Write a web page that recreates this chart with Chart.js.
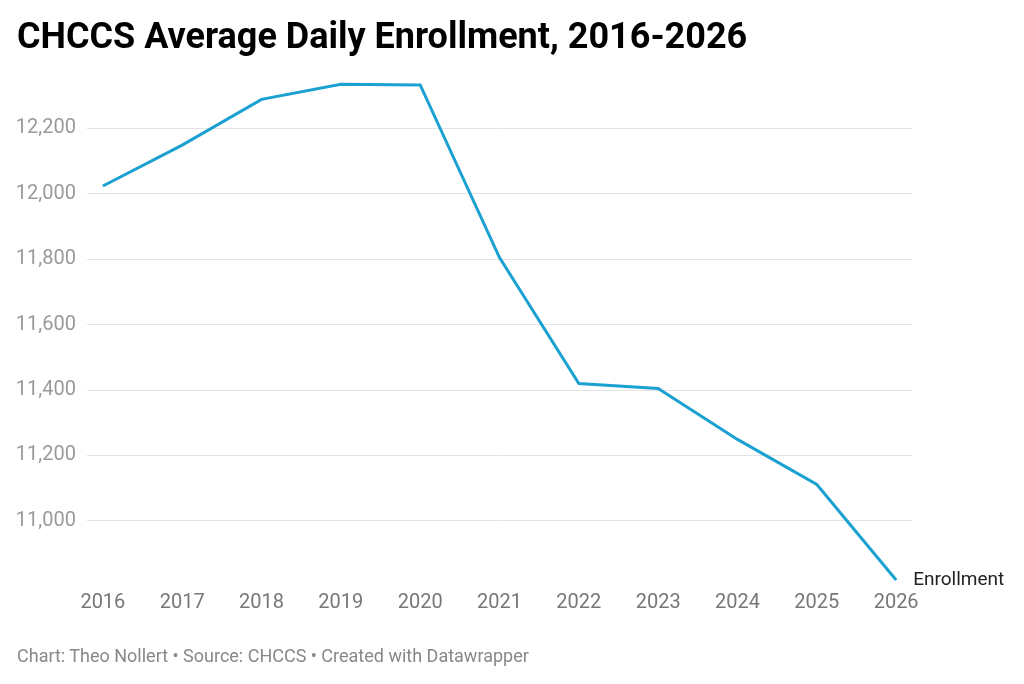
<!DOCTYPE html>
<html lang="en">
<head>
    <meta charset="UTF-8">
    <meta name="viewport" content="width=device-width, initial-scale=1.0">
    <title>CHCCS Average Daily Enrollment</title>
    <script src="https://cdn.jsdelivr.net/npm/chart.js"></script>
    <style>
        html, body {
            margin: 0;
            padding: 0;
            background: #fff;
            font-family: Roboto, "Noto Sans", sans-serif;
        }
        .page {
            position: relative;
            width: 1024px;
            height: 684px;
            overflow: hidden;
        }
        .title {
            position: absolute;
            left: 17px;
            top: 15px;
            font-size: 36px;
            font-weight: 700;
            color: #000;
            white-space: nowrap;
        }
        .footer {
            position: absolute;
            left: 17px;
            top: 645px;
            font-size: 18px;
            color: #888;
            white-space: nowrap;
        }
        .chart-box {
            position: absolute;
            left: 0;
            top: 0;
            width: 1024px;
            height: 684px;
        }
    </style>
</head>
<body>
    <div class="page">
        <div class="chart-box">
            <canvas id="enrollChart" width="1024" height="684"></canvas>
        </div>
        <div class="title">CHCCS Average Daily Enrollment, 2016-2026</div>
        <div class="footer">Chart: Theo Nollert • Source: CHCCS • Created with Datawrapper</div>
    </div>

    <script>
        // data
        const years = [2016, 2017, 2018, 2019, 2020, 2021, 2022, 2023, 2024, 2025, 2026];
        const enrollment = [12024, 12149, 12289, 12335, 12333, 11805, 11420, 11405, 11249, 11111, 10819];
        const yTicks = [11000, 11200, 11400, 11600, 11800, 12000, 12200];
        const seriesLabel = 'Enrollment';

        // draws the series name next to the last point
        const endLabel = {
            id: 'endLabel',
            afterDatasetsDraw(chart) {
                const meta = chart.getDatasetMeta(0);
                const last = meta.data[meta.data.length - 1];
                const ctx = chart.ctx;
                ctx.save();
                ctx.font = '19px Roboto';
                ctx.fillStyle = '#222';
                ctx.textBaseline = 'middle';
                ctx.fillText(seriesLabel, last.x + 17, last.y);
                ctx.restore();
            }
        };

        document.addEventListener('DOMContentLoaded', function() {
            const ctx = document.getElementById('enrollChart').getContext('2d');
            new Chart(ctx, {
                type: 'line',
                data: {
                    datasets: [{
                        label: seriesLabel,
                        data: years.map((y, i) => ({ x: y, y: enrollment[i] })),
                        borderColor: '#1ba1d1',
                        borderWidth: 3,
                        pointRadius: 0,
                        tension: 0,
                        fill: false,
                        clip: false
                    }]
                },
                options: {
                    responsive: false,
                    animation: false,
                    layout: {
                        padding: { top: 84, right: 112, bottom: 0, left: 0 }
                    },
                    plugins: {
                        legend: { display: false },
                        tooltip: { enabled: false }
                    },
                    scales: {
                        x: {
                            type: 'linear',
                            min: 2015.8,
                            max: 2026.2,
                            afterBuildTicks: scale => {
                                scale.ticks = years.map(v => ({ value: v }));
                            },
                            afterFit: scale => { scale.height = 104; },
                            grid: { display: false },
                            border: { display: false },
                            ticks: {
                                autoSkip: false,
                                maxRotation: 0,
                                padding: 3,
                                color: '#777',
                                font: { family: 'Roboto', size: 20 },
                                callback: v => String(v)
                            }
                        },
                        y: {
                            min: 10819,
                            max: 12336,
                            afterBuildTicks: scale => {
                                scale.ticks = yTicks.map(v => ({ value: v }));
                            },
                            afterFit: scale => { scale.width = 87; },
                            grid: {
                                color: '#e3e3e3',
                                lineWidth: 1,
                                drawTicks: false
                            },
                            border: { display: false },
                            ticks: {
                                padding: 11,
                                color: '#9a9a9a',
                                font: { family: 'Roboto', size: 20 },
                                callback: v => v.toLocaleString('en-US')
                            }
                        }
                    }
                },
                plugins: [endLabel]
            });
        });
    </script>
</body>
</html>
